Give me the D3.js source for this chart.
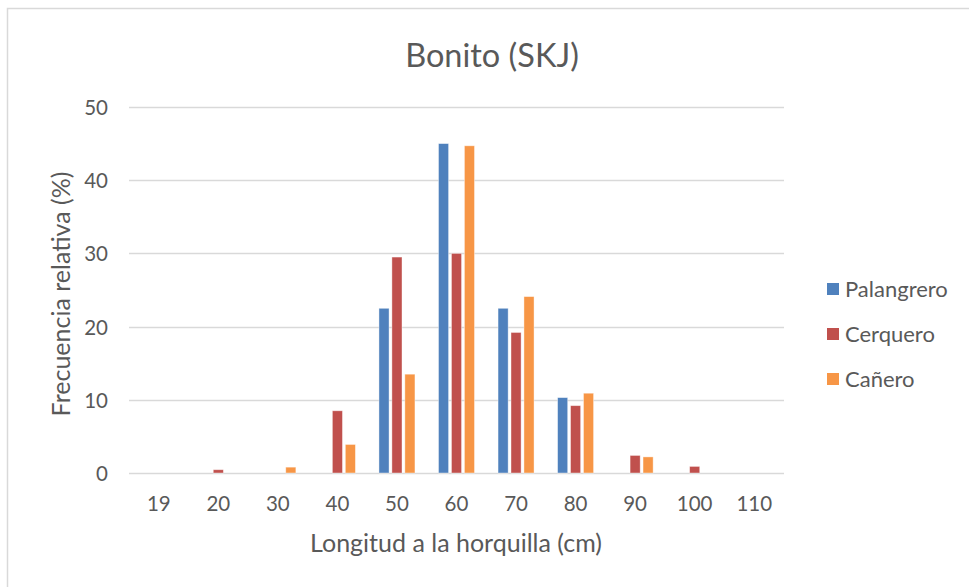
<!DOCTYPE html>
<meta charset="utf-8">
<script src="https://d3js.org/d3.v7.min.js"></script>
<style>
body { margin: 0; background: #fff; }
text { font-family: Lato, "Open Sans", sans-serif; fill: #595959; }
</style>
<body>
<script>
var categories = ['19', '20', '30', '40', '50', '60', '70', '80', '90', '100', '110'];
var seriesNames = ['Palangrero', 'Cerquero', 'Cañero'];
var colors = ['#4f81bd', '#c0504d', '#f79646'];
var palangrero = [0, 0, 0, 0, 22.5, 45, 22.5, 10.3, 0, 0, 0];
var cerquero = [0, 0.45, 0, 8.5, 29.5, 30, 19.2, 9.2, 2.4, 0.9, 0];
var canero = [0, 0, 0.8, 3.9, 13.5, 44.7, 24.1, 10.9, 2.2, 0, 0];
var yTicks = [0, 10, 20, 30, 40, 50];

var values = [palangrero, cerquero, canero];

var width = 969, height = 587;
var margin = {top: 107, right: 185, bottom: 114, left: 129};
var w = width - margin.left - margin.right;
var h = height - margin.top - margin.bottom;

var svg = d3.select('body')
    .append('svg')
    .attr('width', width)
    .attr('height', height);

// chart frame
svg.append('rect')
    .attr('x', 7.5)
    .attr('y', 8.5)
    .attr('width', 1000)
    .attr('height', 1000)
    .style('fill', 'none')
    .style('stroke', '#d9d9d9')
    .style('stroke-width', 1.5);

var g = svg.append('g')
    .attr('transform', 'translate(' + margin.left + ',' + margin.top + ')');

var x = d3.scaleBand()
    .domain(categories)
    .range([0, w]);

var xInner = d3.scaleBand()
    .domain(seriesNames)
    .range([0, 36])
    .paddingInner(0.22);

var y = d3.scaleLinear()
    .domain([0, 50])
    .range([h, 0]);

// gridlines
g.selectAll('.grid')
    .data(yTicks)
    .enter()
    .append('line')
    .attr('x1', 0)
    .attr('x2', w)
    .attr('y1', function(d) { return Math.round(y(d)) + 0.5; })
    .attr('y2', function(d) { return Math.round(y(d)) + 0.5; })
    .style('stroke', '#d9d9d9')
    .style('stroke-width', 1.3);

// y tick labels
g.selectAll('.ylab')
    .data(yTicks)
    .enter()
    .append('text')
    .attr('x', -21)
    .attr('y', function(d) { return y(d) + 8; })
    .attr('text-anchor', 'end')
    .style('font-size', '20.5px')
    .text(function(d) { return d; });

// x tick labels
g.selectAll('.xlab')
    .data(categories)
    .enter()
    .append('text')
    .attr('x', function(d) { return x(d) + x.bandwidth() / 2; })
    .attr('y', h + 38)
    .attr('text-anchor', 'middle')
    .style('font-size', '20.5px')
    .text(function(d) { return d; });

// bars
seriesNames.forEach(function(name, s) {
    g.append('g')
        .selectAll('rect')
        .data(categories)
        .enter()
        .append('rect')
        .attr('x', function(d) { return x(d) + x.bandwidth() / 2 - 18 + xInner(name); })
        .attr('y', function(d, i) { return y(values[s][i]); })
        .attr('width', xInner.bandwidth())
        .attr('height', function(d, i) { return h - y(values[s][i]); })
        .style('fill', colors[s])
        .style('stroke', '#fff')
        .style('stroke-opacity', 0.5)
        .style('stroke-width', 0.8);
});

// title
svg.append('text')
    .attr('x', 492)
    .attr('y', 67)
    .attr('text-anchor', 'middle')
    .style('font-size', '32.5px')
    .text('Bonito (SKJ)');

// axis titles
svg.append('text')
    .attr('x', 456)
    .attr('y', 552)
    .attr('text-anchor', 'middle')
    .style('font-size', '25px')
    .text('Longitud a la horquilla (cm)');

svg.append('text')
    .attr('transform', 'translate(70,294) rotate(-90)')
    .attr('text-anchor', 'middle')
    .style('font-size', '25px')
    .text('Frecuencia relativa (%)');

// legend
var legend = svg.append('g');
seriesNames.forEach(function(name, s) {
    var ly = 283 + s * 45;
    legend.append('rect')
        .attr('x', 827)
        .attr('y', ly)
        .attr('width', 12)
        .attr('height', 12)
        .style('fill', colors[s]);
    legend.append('text')
        .attr('x', 845)
        .attr('y', ly + 13.5)
        .style('font-size', '22px')
        .text(name);
});
</script>
</body>
